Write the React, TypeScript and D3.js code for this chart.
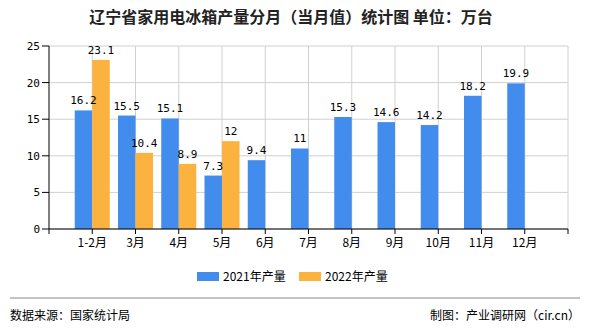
import React from "react";
import * as d3 from "d3";

const categories = ["1-2月", "3月", "4月", "5月", "6月", "7月", "8月", "9月", "10月", "11月", "12月"];
const series2021 = [16.2, 15.5, 15.1, 7.3, 9.4, 11, 15.3, 14.6, 14.2, 18.2, 19.9];
const series2022 = [23.1, 10.4, 8.9, 12];
const yTicks = [0, 5, 10, 15, 20, 25];
const seriesNames = ["2021年产量", "2022年产量"];
const title = "辽宁省家用电冰箱产量分月（当月值）统计图 单位：万台";
const source = "数据来源：国家统计局";
const credit = "制图：产业调研网（cir.cn）";

const BLUE = "#418cec";
const ORANGE = "#fbb23e";
const FONT = "'Noto Sans CJK SC', 'DejaVu Sans', sans-serif";
const MONO = "'DejaVu Sans Mono', monospace";

export default function App() {
  const W = 590, H = 330;
  const left = 49, right = 568, top = 46, bottom = 229;
  const x = d3.scaleLinear().domain([-1, categories.length]).range([left, right]);
  const y = d3.scaleLinear().domain([0, 25]).range([bottom, top]);
  const bw = 17.5;

  return (
    <svg width={W} height={H} style={{ position: "absolute", left: 0, top: 0, background: "#fff" }}>
      <text x={291} y={23} textAnchor="middle" fontFamily={FONT} fontSize={16} fontWeight="bold" fill="#222">{title}</text>
      {/* horizontal grid */}
      {yTicks.map((t) => (
        <g key={"y" + t}>
          <line x1={left} x2={right} y1={y(t)} y2={y(t)} stroke="#d0d0d0" />
          <line x1={left - 7} x2={left} y1={y(t)} y2={y(t)} stroke="#000" />
          <text x={left - 9} y={y(t) + 4} textAnchor="end" fontFamily={MONO} fontSize={11} fill="#000">{t}</text>
        </g>
      ))}
      {/* vertical grid */}
      {categories.map((c, i) => (
        <line key={"vg" + i} x1={x(i)} x2={x(i)} y1={top} y2={bottom} stroke="#d0d0d0" />
      ))}
      <line x1={right} x2={right} y1={top} y2={bottom} stroke="#d0d0d0" />
      {/* bars */}
      {series2021.map((v, i) => (
        <rect key={"a" + i} x={x(i) - bw} y={y(v)} width={bw} height={bottom - y(v)} fill={BLUE} />
      ))}
      {series2022.map((v, i) => (
        <rect key={"b" + i} x={x(i)} y={y(v)} width={bw} height={bottom - y(v)} fill={ORANGE} />
      ))}
      {series2021.map((v, i) => (
        <text key={"la" + i} x={x(i) - bw / 2} y={y(v) - 6} textAnchor="middle" fontFamily={MONO} fontSize={11} fill="#000">{String(v)}</text>
      ))}
      {series2022.map((v, i) => (
        <text key={"lb" + i} x={x(i) + bw / 2} y={y(v) - 6} textAnchor="middle" fontFamily={MONO} fontSize={11} fill="#000">{String(v)}</text>
      ))}
      {/* axes */}
      <line x1={left} x2={left} y1={top} y2={bottom} stroke="#000" />
      <line x1={left} x2={right} y1={bottom} y2={bottom} stroke="#000" />
      {[-1, ...categories.map((_, i) => i), categories.length].map((i) => (
        <line key={"xt" + i} x1={x(i)} x2={x(i)} y1={bottom} y2={bottom + 5} stroke="#000" />
      ))}
      {categories.map((c, i) => (
        <text key={"xl" + i} x={x(i)} y={bottom + 18} textAnchor="middle" fontFamily={FONT} fontSize={12} fill="#000">{c}</text>
      ))}
      {/* legend */}
      <rect x={197} y={272} width={22} height={9} fill={BLUE} />
      <text x={223} y={281} fontFamily={FONT} fontSize={12} fill="#000">{seriesNames[0]}</text>
      <rect x={299} y={272} width={22} height={9} fill={ORANGE} />
      <text x={325} y={281} fontFamily={FONT} fontSize={12} fill="#000">{seriesNames[1]}</text>
      {/* footer */}
      <line x1={10} x2={580} y1={298} y2={298} stroke="#888" />
      <text x={10} y={320} fontFamily={FONT} fontSize={12} fill="#000">{source}</text>
      <text x={580} y={320} textAnchor="end" fontFamily={FONT} fontSize={12} fill="#000">{credit}</text>
    </svg>
  );
}
